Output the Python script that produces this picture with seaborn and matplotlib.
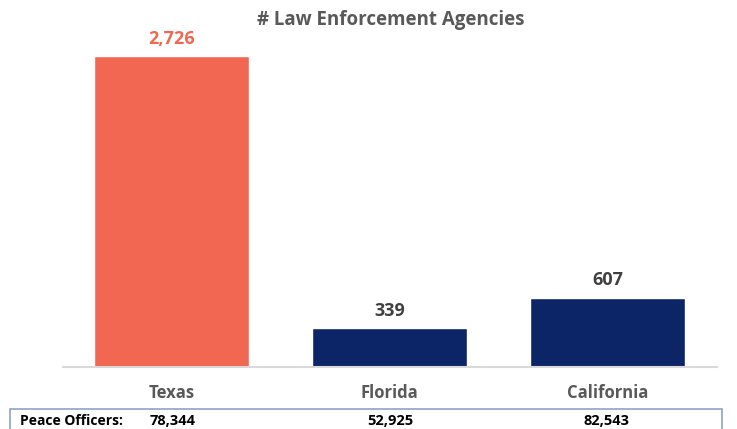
import matplotlib
matplotlib.use("Agg")
import matplotlib.pyplot as plt
import seaborn as sns
import pandas as pd
from matplotlib.patches import Rectangle

states = ["Texas", "Florida", "California"]
agencies = [2726, 339, 607]
officers = ["78,344", "52,925", "82,543"]
colors = ["#F26751", "#0B2566", "#0B2566"]

sns.set_theme(style="white")
plt.rcParams['font.family'] = ['Open Sans', 'DejaVu Sans']

W, H = 737, 429
fig = plt.figure(figsize=(W/100, H/100), dpi=100)
ax = fig.add_axes([62.5/W, 1-367/H, 654/W, (367-30)/H])

df = pd.DataFrame({"state": states, "agencies": agencies})
sns.barplot(data=df, x="state", y="agencies", hue="state", palette=colors,
            width=0.71, legend=False, ax=ax, saturation=1)
ax.set_xlim(-0.5, 2.5)
ax.set_ylim(0, 2955)
ax.set_xlabel("")
ax.set_ylabel("")
ax.set_yticks([])
ax.set_xticks([])
for s in ["top", "right", "left"]:
    ax.spines[s].set_visible(False)
ax.spines["bottom"].set_color("#D9D9D9")
ax.spines["bottom"].set_linewidth(1.5)

for i, v in enumerate(agencies):
    ax.annotate(f"{v:,}", (i, v), xytext=(0, 6), textcoords="offset points",
                ha="center", va="bottom", fontsize=13, fontweight="bold",
                color=colors[i] if i == 0 else "#404040")
    fig.text((62.5 + 218*i + 109)/W, 1-393/H, states[i], ha="center", va="center",
             fontsize=12, fontweight="bold", color="#595959")
    fig.text(([173, 390, 607][i])/W, 1-421/H, officers[i], ha="center", va="center",
             fontsize=10.5, fontweight="bold", color="black")

fig.text(391/W, 1-20/H, "# Law Enforcement Agencies", ha="center", va="center",
         fontsize=13.5, fontweight="bold", color="#595959")
fig.text(20/W, 1-421/H, "Peace Officers:", ha="left", va="center",
         fontsize=10, fontweight="bold", color="black")

fig.patches.append(Rectangle((10/W, -0.05), 712/W, (429-409)/H + 0.05,
                             transform=fig.transFigure, fill=False,
                             edgecolor="#8EA3C4", linewidth=1.2))

fig.savefig("out.png", dpi=100)
